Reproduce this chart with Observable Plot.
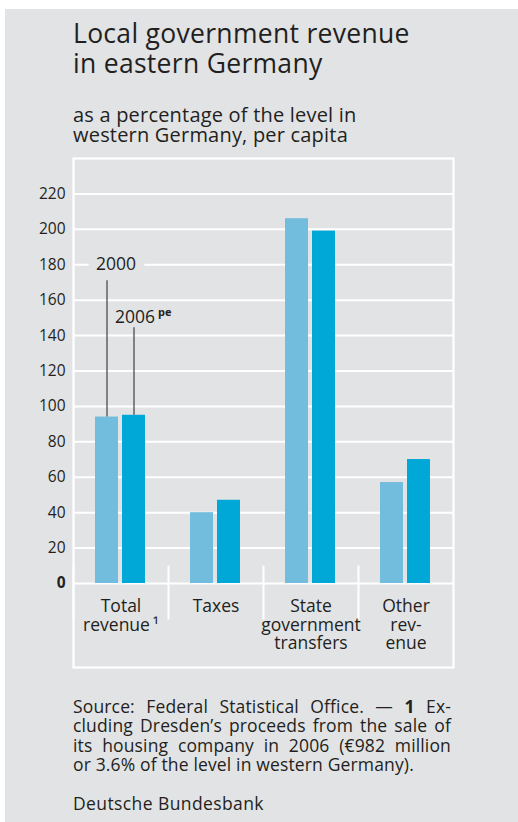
<!DOCTYPE html>
<html>
<head>
<meta charset="utf-8">
<script src="https://cdn.jsdelivr.net/npm/d3@7"></script>
<script src="https://cdn.jsdelivr.net/npm/@observablehq/plot@0.6"></script>
<style>
  html, body { margin: 0; padding: 0; background: #ffffff; }
  body { width: 518px; height: 822px; position: relative; overflow: hidden; font-family: "Open Sans", sans-serif; color: #231f20; }
  #panel { position: absolute; left: 5px; top: 9px; width: 513px; height: 813px; background: #e2e3e5; }
  .abs { position: absolute; left: 73px; }
  #title { top: 18px; font-size: 26.5px; line-height: 30px; letter-spacing: 0.3px; }
  #subtitle { top: 105px; font-size: 20px; line-height: 20px; letter-spacing: 0.2px; }
  #chart { position: absolute; left: 0; top: 150px; }
  #source { top: 697px; width: 378px; font-size: 17.5px; line-height: 19.3px; letter-spacing: 0.15px; }
  #source .j { text-align: justify; text-align-last: justify; }
  #bank { top: 793.5px; font-size: 17.5px; line-height: 19.3px; letter-spacing: 0.4px; }
</style>
</head>
<body>
<div id="panel"></div>
<div id="title" class="abs">Local government revenue<br>in eastern Germany</div>
<div id="subtitle" class="abs">as a percentage of the level in<br>western Germany, per capita</div>
<div id="chart"></div>
<div id="source" class="abs">
  <div class="j">Source: Federal Statistical Office. — <b>1</b> Ex-</div>
  <div class="j">cluding Dresden’s proceeds from the sale of</div>
  <div class="j">its housing company in 2006 (€982 million</div>
  <div>or 3.6% of the level in western Germany).</div>
</div>
<div id="bank" class="abs">Deutsche Bundesbank</div>
<script>
// ---- data ----
const categories = ["Total revenue", "Taxes", "State government transfers", "Other revenue"];
const categoryLabels = ["Total\nrevenue\u2009¹", "Taxes", "State\ngovernment\ntransfers", "Other\nrev-\nenue"];
const years = ["2000", "2006"];
const values2000 = [94, 40, 206, 57];
const values2006 = [95, 47, 199, 70];
const yTicks = [0, 20, 40, 60, 80, 100, 120, 140, 160, 180, 200, 220];
const yDomain = [0, 240];
const barColors = ["#72bcdd", "#00a8d8"];
// annotation anchors (data units) for the year labels in the first group
const annoYears = ["2000", "2006"];
const annoTexts = ["2000", "2006"];
const annoLevels = [180, 150];
const leaderTops = [171, 141];

const rows = [];
categories.forEach((c, i) => {
  rows.push({category: c, year: years[0], value: values2000[i]});
  rows.push({category: c, year: years[1], value: values2006[i]});
});
const annos = annoYears.map((y, i) => ({
  category: categories[0], year: y, text: annoTexts[i], level: annoLevels[i],
  top: leaderTops[i], value: rows.find(r => r.category === categories[0] && r.year === y).value
}));

const grey = "#e2e3e5";
const ink = "#231f20";

const chart = Plot.plot({
  width: 518,
  height: 523,
  marginTop: 8,
  marginBottom: 90,
  marginLeft: 73,
  marginRight: 65,
  style: {fontFamily: "'Open Sans', sans-serif", background: "transparent", overflow: "visible"},
  fx: {domain: categories, padding: 0},
  x: {domain: years, paddingInner: 0.13, paddingOuter: 0.82, axis: null},
  y: {domain: yDomain},
  color: {domain: years, range: barColors},
  marks: [
    Plot.ruleY(yTicks, {stroke: "white", strokeWidth: 2}),
    Plot.frame({anchor: "left", stroke: "white", strokeWidth: 2, insetTop: 408, insetBottom: -35}),
    Plot.frame({facet: "super", stroke: "white", strokeWidth: 2.2, insetBottom: -84}),
    Plot.barY(rows, {fx: "category", x: "year", y: "value", fill: "year"}),
    Plot.text(annos.filter(d => d.year === "2000"), {fx: "category", x: "year", y: "level", text: "text",
      dx: 9, fontSize: 17.5, fill: ink, stroke: grey, strokeWidth: 18, strokeLinejoin: "round"}),
    Plot.text(annos.filter(d => d.year === "2006"), {fx: "category", x: "year", y: "level", text: "text",
      dx: -19, textAnchor: "start", fontSize: 17.5, fill: ink}),
    Plot.text(annos.filter(d => d.year === "2006"), {fx: "category", x: "year", y: "level", text: () => "pe",
      dx: 24, dy: -5, textAnchor: "start", fontSize: 11, fontWeight: "bold", fill: ink}),
    Plot.ruleX(annos.filter(d => d.year === "2000"), {fx: "category", x: "year", y1: "value", y2: "top", stroke: "#4d4d4d", strokeWidth: 1.3}),
    Plot.ruleX(annos.filter(d => d.year === "2006"), {fx: "category", x: "year", y1: "value", y2: "top", insetBottom: 6, stroke: "#4d4d4d", strokeWidth: 1.3}),
    Plot.axisY(yTicks.filter(t => t !== 0), {tickSize: 0, tickPadding: 8, fontSize: 15.5, color: ink, label: null}),
    Plot.axisY([0], {tickSize: 0, tickPadding: 8, fontSize: 15.5, fontWeight: "bold", color: ink, label: null}),
    Plot.axisFx({anchor: "bottom", tickSize: 0, tickPadding: 15, fontSize: 17.5, lineHeight: 1.07, color: ink, label: null,
      tickFormat: c => categoryLabels[categories.indexOf(c)]})
  ]
});
document.getElementById("chart").appendChild(chart);
</script>
</body>
</html>
